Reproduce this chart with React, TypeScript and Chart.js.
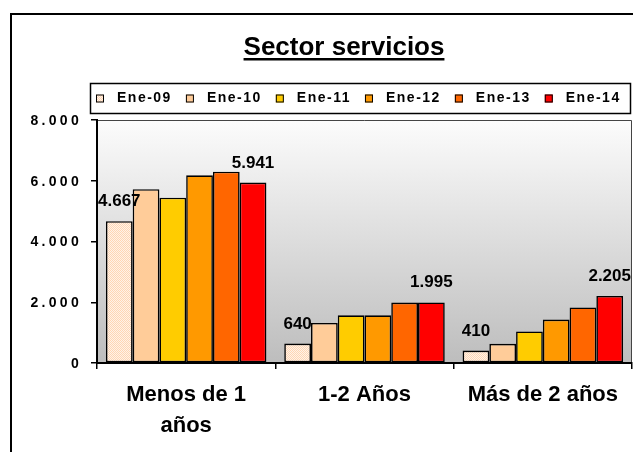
import React, { useEffect, useRef } from 'react';
import { Chart, registerables } from 'chart.js';

Chart.register(...registerables);

// ---- data ----
const TITLE = 'Sector servicios';
const categories: (string | string[])[] = [['Menos de 1', 'años'], '1-2 Años', 'Más de 2 años'];
const seriesNames = ['Ene-09', 'Ene-10', 'Ene-11', 'Ene-12', 'Ene-13', 'Ene-14'];
const ene09 = [4667, 640, 410];
const ene10 = [5720, 1320, 630];
const ene11 = [5440, 1570, 1040];
const ene12 = [6180, 1570, 1430];
const ene13 = [6300, 1990, 1830];
const ene14 = [5941, 1995, 2205];
const yTickValues = [0, 2000, 4000, 6000, 8000];
const yTickLabels = ['0', '2.000', '4.000', '6.000', '8.000'];
const labeledSeries = [0, 5];

// ---- styles ----
const FONT = '"Liberation Sans", Arial, Helvetica, sans-serif';
const seriesColors = ['#FFE6D0', '#FFCC99', '#FFCC00', '#FF9900', '#FF6600', '#FF0000'];

const fmt = (n: number) => String(n).replace(/\B(?=(\d{3})+(?!\d))/g, '.');

function makePattern(): CanvasPattern | string {
  const c = document.createElement('canvas');
  c.width = 4;
  c.height = 4;
  const x = c.getContext('2d');
  if (!x) return seriesColors[0];
  x.fillStyle = '#FFF3E8';
  x.fillRect(0, 0, 4, 4);
  x.fillStyle = '#FFD6B4';
  x.fillRect(0, 0, 1, 1);
  x.fillRect(2, 0, 1, 1);
  x.fillRect(1, 1, 1, 1);
  x.fillRect(3, 1, 1, 1);
  x.fillRect(0, 2, 1, 1);
  x.fillRect(2, 2, 1, 1);
  x.fillRect(1, 3, 1, 1);
  x.fillRect(3, 3, 1, 1);
  const p = x.createPattern(c, 'repeat');
  return p || seriesColors[0];
}

const decor = {
  id: 'decor',
  beforeDraw(chart: any) {
    const { ctx, chartArea: a } = chart;
    ctx.save();
    ctx.fillStyle = '#fff';
    ctx.fillRect(0, 0, chart.width, chart.height);
    // outer frame
    ctx.strokeStyle = '#000';
    ctx.lineWidth = 2;
    ctx.strokeRect(11, 14, chart.width + 40, chart.height + 40);
    // plot background gradient
    const g = ctx.createLinearGradient(0, a.top, 0, a.bottom);
    g.addColorStop(0, '#fcfcfc');
    g.addColorStop(1, '#bdbdbd');
    ctx.fillStyle = g;
    ctx.fillRect(a.left, a.top, a.right - a.left, a.bottom - a.top);
    ctx.strokeStyle = '#444';
    ctx.lineWidth = 1;
    ctx.beginPath();
    ctx.moveTo(a.left, a.top + 0.5);
    ctx.lineTo(a.right - 0.5, a.top + 0.5);
    ctx.lineTo(a.right - 0.5, a.bottom);
    ctx.stroke();
    // title
    ctx.fillStyle = '#000';
    ctx.font = `bold 26px ${FONT}`;
    ctx.textAlign = 'center';
    ctx.textBaseline = 'alphabetic';
    const tx = 344;
    const ty = 55;
    ctx.fillText(TITLE, tx, ty);
    const tw = ctx.measureText(TITLE).width;
    ctx.fillRect(tx - tw / 2, ty + 3, tw, 2.5);
    // legend
    ctx.lineWidth = 1.5;
    ctx.strokeStyle = '#000';
    ctx.strokeRect(90.5, 83.5, 540, 30);
    ctx.font = `bold 14px ${FONT}`;
    (ctx as any).letterSpacing = '1.5px';
    ctx.textAlign = 'left';
    ctx.textBaseline = 'middle';
    let x = 96;
    const cy = 98.5;
    chart.data.datasets.forEach((ds: any) => {
      ctx.fillStyle = ds.backgroundColor;
      ctx.fillRect(x, cy - 4, 8, 8);
      ctx.lineWidth = 1;
      ctx.strokeRect(x + 0.5, cy - 3.5, 7, 7);
      ctx.fillStyle = '#000';
      const label = ds.label as string;
      ctx.fillText(label, x + 21, cy);
      const w = ctx.measureText(label).width;
      x = x + 21 + w + 14;
    });
    ctx.restore();
  },
  afterDatasetsDraw(chart: any) {
    const { ctx } = chart;
    ctx.save();
    ctx.fillStyle = '#000';
    ctx.font = `bold 17px ${FONT}`;
    ctx.textAlign = 'center';
    ctx.textBaseline = 'alphabetic';
    labeledSeries.forEach((s) => {
      const meta = chart.getDatasetMeta(s);
      const vals = chart.data.datasets[s].data as number[];
      meta.data.forEach((bar: any, j: number) => {
        ctx.fillText(fmt(vals[j]), bar.x, bar.y - 15);
      });
    });
    ctx.restore();
  },
  afterDraw(chart: any) {
    const { ctx } = chart;
    const ys = chart.scales.y;
    ctx.save();
    ctx.fillStyle = '#000';
    ctx.font = `bold 14px ${FONT}`;
    (ctx as any).letterSpacing = '3.3px';
    ctx.textAlign = 'right';
    ctx.textBaseline = 'middle';
    yTickValues.forEach((v, i) => {
      ctx.fillText(yTickLabels[i], 82, ys.getPixelForValue(v) + 1);
    });
    ctx.restore();
  },
};

export default function App() {
  const ref = useRef<HTMLCanvasElement | null>(null);
  useEffect(() => {
    if (!ref.current) return;
    const pattern = makePattern();
    const seriesData = [ene09, ene10, ene11, ene12, ene13, ene14];
    const chart = new Chart(ref.current, {
      type: 'bar',
      data: {
        labels: categories as any,
        datasets: seriesNames.map((name, i) => ({
          label: name,
          data: seriesData[i],
          backgroundColor: i === 0 ? (pattern as any) : seriesColors[i],
          borderColor: '#000',
          borderWidth: 1.6,
          borderSkipped: false,
          categoryPercentage: 0.9,
          barPercentage: 1,
        })),
      },
      options: {
        responsive: false,
        animation: false,
        devicePixelRatio: 1,
        layout: { padding: { top: 120, left: 0, right: 1, bottom: 0 } },
        plugins: {
          legend: { display: false },
          title: { display: false },
          tooltip: { enabled: false },
        },
        scales: {
          x: {
            grid: {
              display: true,
              drawOnChartArea: false,
              drawTicks: true,
              tickLength: 6,
              color: '#000',
              lineWidth: 1.5,
            },
            border: { display: true, color: '#000', width: 2 },
            ticks: {
              color: '#000',
              font: { family: FONT, size: 22, weight: 'bold', lineHeight: 1.4 },
              padding: 11,
              maxRotation: 0,
              autoSkip: false,
            },
            afterFit: (s: any) => {
              s.height = 89;
            },
          },
          y: {
            min: 0,
            max: 8000,
            ticks: {
              stepSize: 2000,
              color: 'transparent',
              font: { family: FONT, size: 14, weight: 'bold' },
            },
            grid: {
              display: true,
              drawOnChartArea: false,
              drawTicks: true,
              tickLength: 6,
              color: '#000',
              lineWidth: 1.5,
            },
            border: { display: true, color: '#000', width: 2 },
            afterFit: (s: any) => {
              s.width = 97;
            },
          },
        },
      } as any,
      plugins: [decor],
    });
    return () => chart.destroy();
  }, []);
  return (
    <div style={{ position: 'fixed', left: 0, top: 0, width: 633, height: 452, background: '#fff' }}>
      <canvas ref={ref} width={633} height={452} style={{ display: 'block', width: 633, height: 452 }} />
    </div>
  );
}
